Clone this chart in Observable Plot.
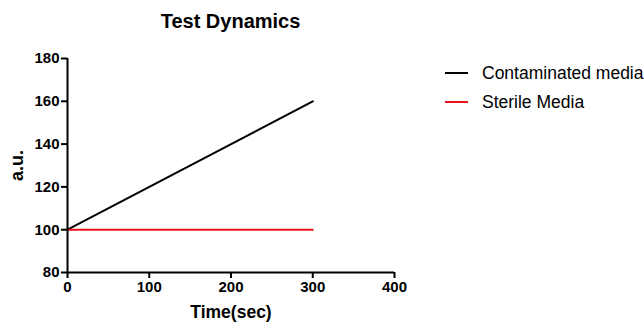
<!DOCTYPE html>
<html><head><meta charset="utf-8">
<script src="https://cdn.jsdelivr.net/npm/d3@7"></script>
<script src="https://cdn.jsdelivr.net/npm/@observablehq/plot@0.6"></script>
<style>
body{margin:0;background:#fff;font-family:"Liberation Sans",Arial,sans-serif;}
#wrap{position:relative;width:644px;height:325px;overflow:hidden;}
#title{position:absolute;left:67px;width:327px;top:9px;text-align:center;font-weight:bold;font-size:20px;line-height:24px;}
.leg{position:absolute;left:445px;font-size:17.5px;line-height:20px;display:flex;align-items:center;white-space:nowrap;}
.leg span.sw{display:inline-block;width:23px;height:2px;margin-right:14px;}
#chart{position:absolute;left:0;top:0;}
</style></head>
<body><div id="wrap"><div id="chart"></div><div id="title"></div><div id="legend"></div></div>
<script>
const title = "Test Dynamics";
const xLabel = "Time(sec)";
const yLabel = "a.u.";
const seriesNames = ["Contaminated media", "Sterile Media"];
const seriesColors = ["#000000", "#e8131b"];
const times = [0, 300];
const contaminated = [100, 160];
const sterile = [100, 100];
const xTicks = [0, 100, 200, 300, 400];
const yTicks = [80, 100, 120, 140, 160, 180];

const data = [
  ...times.map((t, i) => ({t, v: contaminated[i], s: seriesNames[0]})),
  ...times.map((t, i) => ({t, v: sterile[i], s: seriesNames[1]}))
];

const plot = Plot.plot({
  width: 644, height: 325,
  marginLeft: 67, marginRight: 250, marginTop: 58, marginBottom: 53,
  style: {fontFamily: "'Liberation Sans', Arial, sans-serif", fontSize: "15px", fontWeight: "bold", color: "#000"},
  x: {domain: [0, 400], ticks: xTicks},
  y: {domain: [80, 180], ticks: yTicks},
  color: {domain: seriesNames, range: seriesColors},
  marks: [
    Plot.axisX({ticks: xTicks, tickSize: 6, tickPadding: 3, strokeWidth: 2, label: null, fontSize: 15, fontWeight: "bold"}),
    Plot.axisY({ticks: yTicks, tickSize: 6, tickPadding: 2, strokeWidth: 2, label: null, fontSize: 15, fontWeight: "bold"}),
    Plot.line(data, {x: "t", y: "v", z: "s", stroke: "s", strokeWidth: 2}),
    Plot.ruleX([0], {strokeWidth: 2}),
    Plot.ruleY([80], {strokeWidth: 2}),
    Plot.text([xLabel], {frameAnchor: "bottom", dy: 45, fontSize: 17.5, fontWeight: "bold"}),
    Plot.text([yLabel], {frameAnchor: "left", textAnchor: "middle", dx: -50, rotate: -90, fontSize: 18, fontWeight: "bold"})
  ]
});
document.getElementById("chart").appendChild(plot);
document.getElementById("title").textContent = title;
const leg = document.getElementById("legend");
seriesNames.forEach((n, i) => {
  const d = document.createElement("div");
  d.className = "leg";
  d.style.top = (63 + i * 29) + "px";
  d.innerHTML = `<span class="sw" style="background:${seriesColors[i]}"></span><span>${n}</span>`;
  leg.appendChild(d);
});
</script></body></html>
